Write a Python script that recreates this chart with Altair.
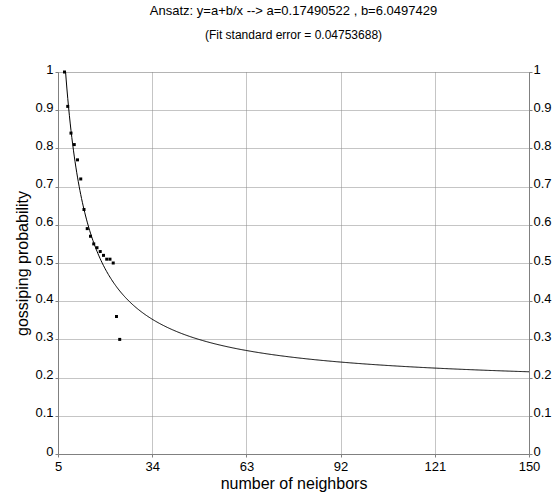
import altair as alt
import pandas as pd

neighbors = [7, 8, 9, 10, 11, 12, 13, 14, 15, 16, 17, 18, 19, 20, 21, 22, 23, 24]
probability = [1.00, 0.91, 0.84, 0.81, 0.77, 0.72, 0.64, 0.59, 0.57, 0.55,
               0.54, 0.53, 0.52, 0.51, 0.51, 0.50, 0.36, 0.30]

# Fit coefficients stated in the chart title
fit_a = 0.17490522
fit_b = 6.0497429

x_ticks = [5, 34, 63, 92, 121, 150]
y_ticks = [0, 0.1, 0.2, 0.3, 0.4, 0.5, 0.6, 0.7, 0.8, 0.9, 1]

FONT = "Liberation Sans"
AX = "#808080"
GRID = "#8a8a8a"

pts = pd.DataFrame({"n": neighbors, "p": probability})

xscale = alt.Scale(domain=[5, 150], nice=False, zero=False)
yscale = alt.Scale(domain=[0, 1], nice=False)

xaxis = alt.Axis(values=x_ticks, title="number of neighbors", grid=True,
                 gridColor=GRID, gridDash=[1, 1], gridWidth=1,
                 domainColor=AX, tickColor=AX, tickSize=3, labelPadding=3,
                 labelFontSize=13, titleFontSize=16, titleFontWeight="normal",
                 titleColor="black", labelColor="black", titlePadding=2,
                 labelFont=FONT, titleFont=FONT, labelFlush=False)
yaxis = alt.Axis(values=y_ticks, title="gossiping probability", grid=True,
                 gridColor=GRID, gridDash=[1, 1], gridWidth=1, format="~g",
                 domainColor=AX, tickColor=AX, tickSize=3, labelPadding=2,
                 labelOffset=-3,
                 labelFontSize=13, titleFontSize=16, titleFontWeight="normal",
                 titleColor="black", labelColor="black", titlePadding=4,
                 labelFont=FONT, titleFont=FONT, labelFlush=False)
yaxis_r = alt.Axis(values=y_ticks, title=None, orient="right", grid=False,
                   format="~g", labelOffset=-3,
                   domainColor=AX, tickColor=AX, tickSize=3, labelPadding=1,
                   labelFontSize=13, labelColor="black", labelFont=FONT,
                   labelFlush=False)

curve = alt.Chart(alt.sequence(5, 150.5, 0.25, as_="n")).transform_calculate(
    p=f"{fit_a} + {fit_b} / datum.n"
).mark_line(color="black", strokeWidth=1, clip=True).encode(
    x=alt.X("n:Q", scale=xscale, axis=xaxis),
    y=alt.Y("p:Q", scale=yscale, axis=yaxis),
)

dots = alt.Chart(pts).mark_square(color="black", size=9, opacity=1).encode(
    x=alt.X("n:Q", scale=xscale),
    y=alt.Y("p:Q", scale=yscale, axis=yaxis_r),
)

chart = alt.layer(curve, dots).resolve_axis(y="independent").properties(
    width=471,
    height=382,
    autosize=alt.AutoSizeParams(type="none"),
    padding={"left": 58, "top": 72, "right": 27, "bottom": 44},
    title=alt.TitleParams(
        text="Ansatz: y=a+b/x --> a=0.17490522 , b=6.0497429",
        subtitle="(Fit standard error = 0.04753688)",
        font=FONT, fontSize=13, fontWeight="normal", color="black",
        subtitleFont=FONT, subtitleFontSize=12, subtitleColor="black",
        subtitlePadding=12, offset=22, anchor="middle", frame="group",
    ),
).configure_view(stroke=AX, strokeWidth=1).configure(background="white")

chart.save("out.html", embed_options={"renderer": "svg", "actions": False})
